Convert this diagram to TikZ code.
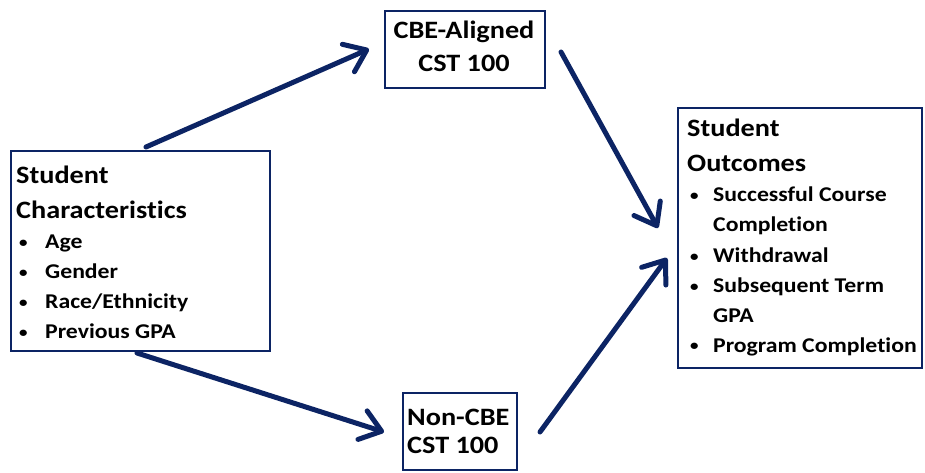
\documentclass[tikz,border=0pt]{standalone}
\usepackage{fontspec}
\setmainfont{Carlito}[FakeStretch=1.13, Ligatures=NoCommon]
\usetikzlibrary{arrows.meta}
\definecolor{navy}{RGB}{12,36,100}
\newcommand{\smb}{\raisebox{1pt}{\fontsize{15}{15}\selectfont\textbullet}}
\newcommand{\ttl}[1]{\hbox{\fontsize{25}{30}\selectfont\bfseries #1}}
\newcommand{\bli}[2]{\hbox{\fontsize{21}{25}\selectfont\bfseries\hbox to #1{\hskip3pt\smb\hss}#2}}
\newcommand{\bcont}[2]{\hbox{\fontsize{21}{25}\selectfont\bfseries\hbox to #1{\hss}#2}}
\tikzset{
  box/.style={draw=navy, line width=1.8pt, rectangle, inner sep=0pt, anchor=north west},
  txt/.style={inner sep=0pt, anchor=base west, align=left},
  arr/.style={draw=navy, line width=5pt, line cap=round, line join=round,
    -{Straight Barb[length=20pt,width=30pt,line cap=round,line join=round]}}
}
\begin{document}
\begin{tikzpicture}[x=1pt,y=-1pt]
\useasboundingbox (0,0) rectangle (925,473);
% boxes
\node[box, minimum width=259pt, minimum height=200pt] (sc) at (10,150) {};
\node[box, minimum width=160pt, minimum height=77pt] (cbe) at (384,10) {};
\node[box, minimum width=114pt, minimum height=77pt] (non) at (402,392) {};
\node[box, minimum width=244pt, minimum height=260pt] (so) at (677,107) {};
% texts
\node[txt] (sct) at (16,183) {\vtop{\baselineskip=35pt
  \ttl{Student}\ttl{Characteristics}\baselineskip=30pt
  \bli{29pt}{Age}\bli{29pt}{Gender}\bli{29pt}{Race/Ethnicity}\bli{29pt}{Previous GPA}}};
\node[txt] (sot) at (687,137) {\vtop{\baselineskip=35pt
  \ttl{Student}\ttl{Outcomes}\baselineskip=30pt
  \bli{26pt}{Successful Course}\bcont{26pt}{Completion}\bli{26pt}{Withdrawal}
  \bli{26pt}{Subsequent Term}\bcont{26pt}{GPA}\bli{26pt}{Program Completion}}};
\node[inner sep=0pt, anchor=base, align=center, font=\fontsize{25}{33}\selectfont\bfseries] (cbet) at (464,72) {CBE-Aligned\\CST 100};
\node[inner sep=0pt, anchor=base west, align=left, font=\fontsize{25}{28}\selectfont\bfseries] (nont) at (407,453) {Non-CBE\\CST 100};
% arrow ends
\coordinate (a1s) at (146,147); \coordinate (a1e) at (369,49);
\coordinate (a2s) at (561,52);  \coordinate (a2e) at (658,228);
\coordinate (a3s) at (137,353); \coordinate (a3e) at (384,432);
\coordinate (a4s) at (540,432); \coordinate (a4e) at (667,258);
\draw[arr] (a1s) -- (a1e);
\draw[arr] (a2s) -- (a2e);
\draw[arr] (a3s) -- (a3e);
\draw[arr] (a4s) -- (a4e);
\end{tikzpicture}
\end{document}
